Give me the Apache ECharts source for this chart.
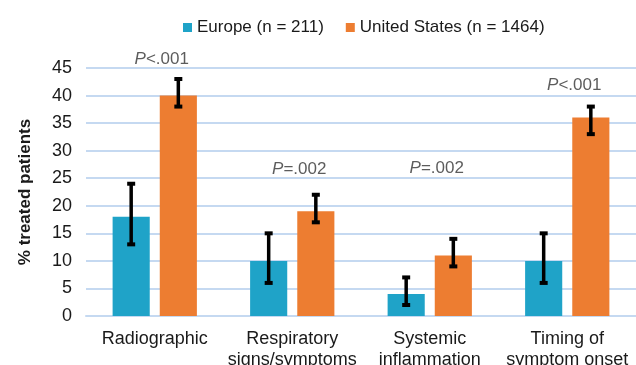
<!DOCTYPE html>
<html>
<head>
<meta charset="utf-8">
<script src="https://cdn.jsdelivr.net/npm/echarts@6/dist/echarts.min.js"></script>
<style>html,body{margin:0;padding:0;background:#fff}#c{width:636px;height:365px}</style>
</head>
<body>
<div id="c"></div>
<script>
var categories = ['Radiographic', 'Respiratory\nsigns/symptoms', 'Systemic\ninflammation', 'Timing of\nsymptom onset'];
var seriesNames = ['Europe (n = 211)', 'United States (n = 1464)'];
var europe = [18, 10, 4, 10];
var europeLow = [13, 6, 2, 6];
var europeHigh = [24, 15, 7, 15];
var us = [40, 19, 11, 36];
var usLow = [38, 17, 9, 33];
var usHigh = [43, 22, 14, 38];
var pLabels = ['<.001', '=.002', '=.002', '<.001'];
var pLevels = [46.5, 26.7, 26.8, 41.9];
var yTicks = [0, 5, 10, 15, 20, 25, 30, 35, 40, 45];

var FONT = '"Liberation Sans", Arial, sans-serif';
var TXT = '#1a1a1a';
var BLUE = '#1fa3c8';
var ORANGE = '#ed7d31';

var chart = echarts.init(document.getElementById('c'));

function errRender(seriesIdx, lows, highs) {
  return function (params, api) {
    var i = params.dataIndex;
    var lo = api.coord([i, lows[i]]);
    var hi = api.coord([i, highs[i]]);
    var size = api.size([1, 0]);
    var bandW = size[0];
    var barW = bandW * 0.27;
    var gap = barW * 0.27;
    var total = barW * 2 + gap;
    var cx = lo[0] - total / 2 + barW / 2 + seriesIdx * (barW + gap);
    var capW = 8;
    var st = { stroke: '#000', lineWidth: 3.5 };
    var cap = { stroke: '#000', lineWidth: 4 };
    return {
      type: 'group',
      children: [
        { type: 'line', shape: { x1: cx, y1: hi[1], x2: cx, y2: lo[1] }, style: st },
        { type: 'line', shape: { x1: cx - capW / 2, y1: hi[1], x2: cx + capW / 2, y2: hi[1] }, style: cap },
        { type: 'line', shape: { x1: cx - capW / 2, y1: lo[1], x2: cx + capW / 2, y2: lo[1] }, style: cap }
      ]
    };
  };
}

chart.setOption({
  animation: false,
  textStyle: { fontFamily: FONT },
  legend: {
    data: seriesNames,
    top: 14,
    left: 178,
    itemWidth: 9,
    itemHeight: 9,
    itemGap: 22,
    icon: 'rect',
    textStyle: { fontSize: 17, color: TXT, fontFamily: FONT }
  },
  grid: { left: 86, right: 0, top: 68, bottom: 49, containLabel: false, outerBoundsMode: 'none' },
  xAxis: {
    type: 'category',
    data: categories,
    axisLine: { show: true, lineStyle: { color: '#c5d9f1', width: 2 } },
    axisTick: { show: false },
    axisLabel: { fontSize: 18, color: TXT, margin: 13, lineHeight: 21, fontFamily: FONT, interval: 0 }
  },
  yAxis: {
    type: 'value',
    min: 0,
    max: 45,
    interval: 5,
    name: '% treated patients',
    nameLocation: 'middle',
    nameGap: 52,
    nameTextStyle: { fontSize: 17, fontWeight: 'bold', color: TXT, fontFamily: FONT },
    axisLine: { show: false },
    axisTick: { show: false },
    axisLabel: { fontSize: 18, color: TXT, margin: 14, fontFamily: FONT },
    splitLine: { lineStyle: { color: '#c5d9f1', width: 2 } }
  },
  series: [
    { name: seriesNames[0], type: 'bar', data: europe, barWidth: '27%', barGap: '27%', itemStyle: { color: BLUE } },
    { name: seriesNames[1], type: 'bar', data: us, barWidth: '27%', barGap: '27%', itemStyle: { color: ORANGE } },
    {
      type: 'custom', name: 'errEU', data: europe.map(function (v, i) { return [i, europeLow[i], europeHigh[i]]; }),
      renderItem: errRender(0, europeLow, europeHigh), z: 10, silent: true
    },
    {
      type: 'custom', name: 'errUS', data: us.map(function (v, i) { return [i, usLow[i], usHigh[i]]; }),
      renderItem: errRender(1, usLow, usHigh), z: 10, silent: true
    },
    {
      type: 'scatter', name: 'p', symbolSize: 0, clip: false, silent: true, z: 12,
      data: pLevels.map(function (v, i) { return [i, v]; }),
      label: {
        show: true, position: 'inside', offset: [7, 0],
        formatter: function (p) { return '{i|P}{t|' + pLabels[p.dataIndex] + '}'; },
        rich: {
          i: { fontStyle: 'italic', fontSize: 17, color: '#333', fontFamily: FONT },
          t: { fontSize: 17, color: '#333', fontFamily: FONT }
        }
      }
    }
  ]
});
</script>
</body>
</html>
